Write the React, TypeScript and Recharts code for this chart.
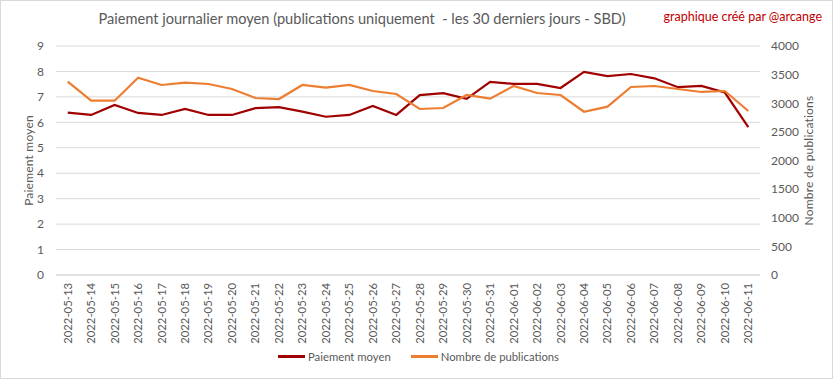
import { LineChart, Line, XAxis, YAxis, CartesianGrid } from 'recharts';

const dates = [
  '2022-05-13', '2022-05-14', '2022-05-15', '2022-05-16', '2022-05-17', '2022-05-18',
  '2022-05-19', '2022-05-20', '2022-05-21', '2022-05-22', '2022-05-23', '2022-05-24',
  '2022-05-25', '2022-05-26', '2022-05-27', '2022-05-28', '2022-05-29', '2022-05-30',
  '2022-05-31', '2022-06-01', '2022-06-02', '2022-06-03', '2022-06-04', '2022-06-05',
  '2022-06-06', '2022-06-07', '2022-06-08', '2022-06-09', '2022-06-10', '2022-06-11',
];

// average payout (SBD), left axis
const paiement = [
  6.38, 6.29, 6.68, 6.37, 6.29, 6.53, 6.29, 6.29, 6.56, 6.6, 6.42, 6.22,
  6.29, 6.64, 6.29, 7.07, 7.15, 6.92, 7.59, 7.51, 7.51, 7.35,
  7.98, 7.82, 7.9, 7.73, 7.38, 7.43, 7.17, 5.81,
];

// number of posts, right axis
const publications = [
  3376, 3045, 3045, 3446, 3319, 3359, 3336, 3249, 3092, 3074, 3319, 3272,
  3319, 3214, 3162, 2900, 2917, 3144, 3080, 3301, 3179, 3144,
  2852, 2940, 3284, 3301, 3249, 3197, 3214, 2865,
];

const leftTicks = [0, 1, 2, 3, 4, 5, 6, 7, 8, 9];
const rightTicks = [0, 500, 1000, 1500, 2000, 2500, 3000, 3500, 4000];

const DARK_RED = '#A00000';
const ORANGE = '#ED7D31';
const GREY_TEXT = '#595959';
const FONT = 'Lato, "Open Sans", sans-serif';

const chartData = dates.map((d, i) => ({
  date: d,
  paiement: paiement[i],
  publications: publications[i],
}));

function DateTick({ x, y, payload }: { x?: number; y?: number; payload?: { value: string } }) {
  return (
    <g transform={`translate(${x},${y})`}>
      <text
        transform="rotate(-90)"
        x={-8}
        y={0}
        dy="0.35em"
        textAnchor="end"
        fill={GREY_TEXT}
        fontSize={11.3}
        fontFamily={FONT}
      >
        {payload?.value}
      </text>
    </g>
  );
}

function AxisTitle({ viewBox, value, cx }: { viewBox?: any; value: string; cx: number }) {
  const cy = viewBox ? viewBox.y + viewBox.height / 2 : 160;
  return (
    <text
      x={cx}
      y={cy}
      transform={`rotate(-90, ${cx}, ${cy})`}
      textAnchor="middle"
      dominantBaseline="central"
      fill={GREY_TEXT}
      fontSize={12}
      letterSpacing={0.2}
      fontFamily={FONT}
    >
      {value}
    </text>
  );
}

export default function App() {
  return (
    <div style={{ position: 'absolute', left: 0, top: 0, width: 833, height: 379, background: '#fff', fontFamily: FONT }}>
      <LineChart
        width={833}
        height={379}
        data={chartData}
        margin={{ top: 46, right: 0, bottom: 24, left: 0 }}
      >
        <CartesianGrid yAxisId="left" vertical={false} stroke="#d9d9d9" />
        <XAxis
          dataKey="date"
          interval={0}
          height={80}
          padding={{ left: 11.7, right: 11.7 }}
          tick={<DateTick />}
          tickLine={false}
          tickSize={0}
          tickMargin={0}
          axisLine={{ stroke: '#d9d9d9' }}
        />
        <YAxis
          yAxisId="left"
          orientation="left"
          width={56}
          domain={[0, 9]}
          ticks={leftTicks}
          interval={0}
          axisLine={false}
          tickLine={false}
          tickMargin={6}
          tick={{ fill: GREY_TEXT, fontSize: 12, fontFamily: FONT }}
          label={<AxisTitle value="Paiement moyen" cx={28} />}
        />
        <YAxis
          yAxisId="right"
          orientation="right"
          width={73}
          domain={[0, 4000]}
          ticks={rightTicks}
          interval={0}
          axisLine={false}
          tickLine={false}
          tickMargin={5}
          tick={{ fill: GREY_TEXT, fontSize: 12, fontFamily: FONT }}
          label={<AxisTitle value="Nombre de publications" cx={808} />}
        />
        <Line
          yAxisId="left"
          type="linear"
          dataKey="paiement"
          stroke={DARK_RED}
          strokeWidth={2.2}
          dot={false}
          isAnimationActive={false}
        />
        <Line
          yAxisId="right"
          type="linear"
          dataKey="publications"
          stroke={ORANGE}
          strokeWidth={2.2}
          dot={false}
          isAnimationActive={false}
        />
      </LineChart>

      {/* title */}
      <div
        style={{
          position: 'absolute', left: 0, top: 10, width: 724, textAlign: 'center',
          fontSize: 14.6, color: GREY_TEXT, whiteSpace: 'pre',
        }}
      >
        Paiement journalier moyen (publications uniquement  - les 30 derniers jours - SBD)
      </div>
      <div style={{ position: 'absolute', right: 11, top: 9, fontSize: 12.5, color: '#C00000' }}>
        graphique créé par @arcange
      </div>

      {/* legend */}
      <div
        style={{
          position: 'absolute', left: 278, top: 350, display: 'flex', alignItems: 'center',
          fontSize: 11.3, color: GREY_TEXT,
        }}
      >
        <span style={{ display: 'inline-block', width: 27, height: 2.5, background: DARK_RED, marginRight: 3 }} />
        <span style={{ marginRight: 20 }}>Paiement moyen</span>
        <span style={{ display: 'inline-block', width: 27, height: 2.5, background: ORANGE, marginRight: 3 }} />
        <span>Nombre de publications</span>
      </div>

      <div style={{ position: 'absolute', inset: 0, border: '1px solid #d9d9d9', pointerEvents: 'none' }} />
    </div>
  );
}
